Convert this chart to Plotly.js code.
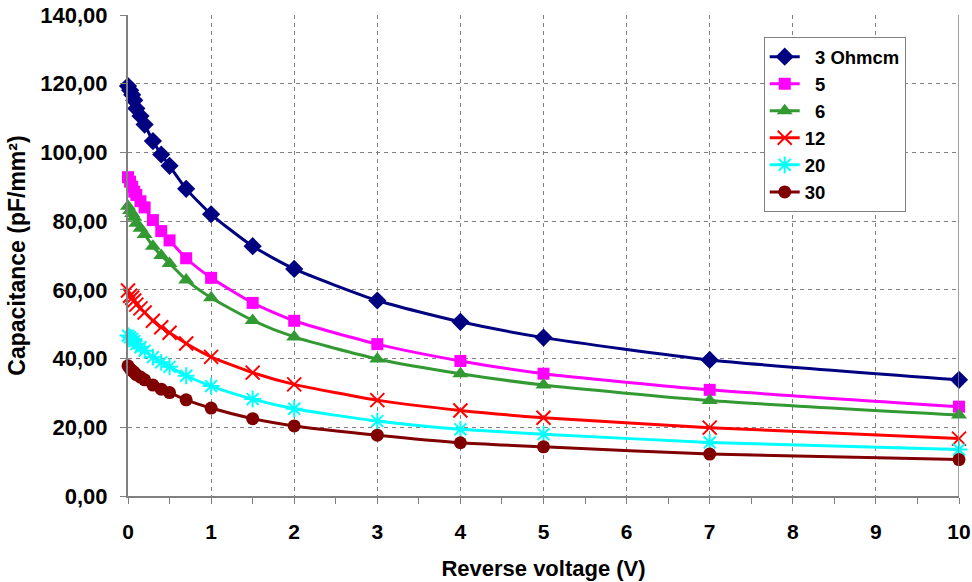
<!DOCTYPE html>
<html>
<head>
<meta charset="utf-8">
<script src="https://cdn.plot.ly/plotly-3.0.1.min.js"></script>
<style>html,body{margin:0;padding:0;background:#fff;}#chart{width:972px;height:582px;}</style>
</head>
<body>
<div id="chart"></div>
<script>
// Reverse voltage (V)
const voltage = [0, 0.025, 0.05, 0.075, 0.1, 0.15, 0.2, 0.3, 0.4, 0.5, 0.7, 1, 1.5, 2, 3, 4, 5, 7, 10];
// Capacitance (pF/mm²) per resistivity
const c3  = [119.3, 118.1, 116.8, 115.2, 112.8, 110.6, 108.1, 103.3, 99.4, 96.1, 89.4, 82.0, 72.7, 66.1, 56.9, 50.7, 46.1, 39.6, 33.8];
const c5  = [92.8, 91.5, 90.0, 88.6, 87.6, 85.8, 84.0, 80.3, 77.1, 74.4, 69.2, 63.5, 56.2, 51.0, 44.2, 39.3, 35.6, 30.9, 26.0];
const c6  = [84.3, 83.1, 82.2, 81.1, 79.4, 77.9, 76.1, 72.7, 70.0, 67.7, 62.9, 57.7, 51.1, 46.3, 39.9, 35.6, 32.3, 27.8, 23.6];
const c12 = [59.8, 58.3, 57.7, 56.9, 55.7, 54.6, 53.4, 51.0, 49.1, 47.5, 44.4, 40.5, 35.9, 32.5, 27.9, 24.9, 22.8, 19.9, 16.7];
const c20 = [46.7, 46.2, 45.7, 45.1, 44.2, 43.3, 42.3, 40.4, 38.9, 37.6, 35.0, 32.0, 28.2, 25.4, 21.8, 19.4, 18.0, 15.6, 13.5];
const c30 = [37.9, 37.0, 36.5, 36.0, 35.3, 34.6, 33.8, 32.3, 31.1, 30.1, 28.0, 25.6, 22.5, 20.4, 17.7, 15.5, 14.3, 12.2, 10.6];
const seriesNames = ['\u00A0\u00A03 Ohmcm', '\u00A0\u00A05', '\u00A0\u00A06', '12', '20', '30'];
const xTicks = [0, 1, 2, 3, 4, 5, 6, 7, 8, 9, 10];
const yTicks = [0, 20, 40, 60, 80, 100, 120, 140];

const seriesData = [c3, c5, c6, c12, c20, c30];
const colors = ['#000080', '#FF00FF', '#339933', '#FF0000', '#00FFFF', '#800000'];
const symbols = ['diamond', 'square', 'triangle-up', 'x-thin-open', 'asterisk-open', 'circle'];
const sizes = [14, 12, 14, 14, 14, 13];

const traces = seriesData.map((ys, i) => ({
  x: voltage, y: ys, name: seriesNames[i], type: 'scatter', mode: 'lines+markers',
  line: {color: colors[i], width: 3, shape: 'spline', smoothing: 0.6},
  marker: {color: colors[i], symbol: symbols[i], size: sizes[i],
           line: {color: colors[i], width: (i === 3 || i === 4) ? 2 : 0}},
  cliponaxis: false
}));

const fontFam = '"Liberation Sans", Arial, sans-serif';
const narrow = '"Liberation Sans Narrow", "Liberation Sans", sans-serif';
const layout = {
  width: 972, height: 582,
  margin: {l: 128, r: 13, t: 15, b: 86},
  paper_bgcolor: '#fff', plot_bgcolor: '#fff',
  separators: ',.',
  font: {family: fontFam, size: 20, color: '#000', weight: 'bold'},
  showlegend: true,
  legend: {x: 0.765, y: 0.954, xanchor: 'left', yanchor: 'top',
           bordercolor: '#808080', borderwidth: 1, bgcolor: '#fff',
           font: {family: fontFam, size: 18.5, color: '#000', weight: 'bold'},
           tracegroupgap: 0, itemwidth: 30},
  xaxis: {
    range: [0, 10], tickvals: xTicks, ticktext: xTicks.map(String),
    showgrid: true, gridcolor: '#808080', griddash: '4px,4px', gridwidth: 1,
    zeroline: false, showline: true, linecolor: '#808080', linewidth: 2,
    ticks: 'outside', ticklen: 6, tickcolor: '#808080', ticklabelstandoff: 10,
    minor: {dtick: 0.5, ticks: 'outside', ticklen: 6, tickcolor: '#808080', showgrid: false},
    tickfont: {family: narrow, size: 21, weight: 'bold'},
    title: {text: 'Reverse voltage (V)', standoff: 18,
            font: {family: narrow, size: 22, weight: 'bold'}}
  },
  yaxis: {
    range: [0, 140], tickvals: yTicks, tickformat: '.2f',
    showgrid: true, gridcolor: '#808080', griddash: '4px,4px', gridwidth: 1,
    zeroline: false, showline: true, linecolor: '#808080', linewidth: 2,
    ticks: 'outside', ticklen: 6, tickcolor: '#808080', ticklabelstandoff: 8,
    tickfont: {family: fontFam, size: 22, weight: 'bold'},
    title: {text: 'Capacitance (pF/mm²)', standoff: 8,
            font: {family: fontFam, size: 23, weight: 'bold'}}
  },
  shapes: [{type: 'line', xref: 'x', yref: 'paper', x0: 10, x1: 10, y0: 0, y1: 1,
            line: {color: '#808080', width: 1.5}}]
};

Plotly.newPlot('chart', traces, layout, {displayModeBar: false, staticPlot: true});
</script>
</body>
</html>
